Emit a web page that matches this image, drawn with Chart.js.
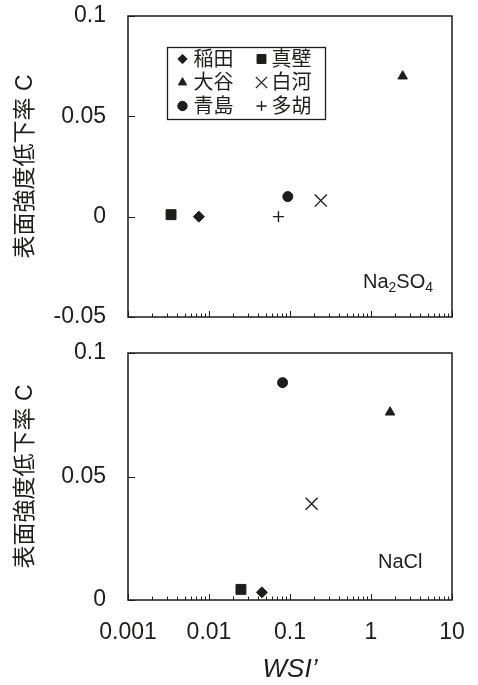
<!DOCTYPE html>
<html><head><meta charset="utf-8">
<script src="https://cdn.jsdelivr.net/npm/chart.js@4/dist/chart.umd.min.js"></script>
<style>
html,body{margin:0;padding:0;background:#fff;width:478px;height:685px;overflow:hidden}
#c1{position:absolute;left:0;top:0}
#c2{position:absolute;left:0;top:339px}
</style></head><body>
<canvas id="c1" width="478" height="339"></canvas>
<canvas id="c2" width="478" height="346"></canvas>
<script>
// ---- data ----
const sites = ['稲田','真壁','大谷','白河','青島','多胡'];
const siteStyles = ['rectRot','rect','triangle','crossRot','circle','cross'];
const siteRadius = [5.5, 7, 5.5, 8.5, 5, 5.5];
const legendRadius = [4.7, 6.3, 4.8, 8, 4.7, 5];
// Na2SO4 panel
const na2so4WSI = [0.0075, 0.0034, 2.46, 0.24, 0.094, 0.072];
const na2so4C   = [0.0,    0.001,  0.070, 0.008, 0.010, 0.0];
// NaCl panel (多胡 not plotted)
const naclWSI = [0.045, 0.0248, 1.72, 0.185, 0.081, null];
const naclC   = [0.0031, 0.0043, 0.076, 0.039, 0.088, null];
// ticks
const xMajorTicks = [0.001, 0.01, 0.1, 1, 10];
const xMajorLabels = ['0.001','0.01','0.1','1','10'];
const xMinorMultipliers = [2,3,4,5,6,7,8,9];
const yTicksTop = [-0.05, 0, 0.05, 0.1];
const yLabelsTop = ['-0.05','0','0.05','0.1'];
const yTicksBottom = [0, 0.05, 0.1];
const yLabelsBottom = ['0','0.05','0.1'];
const yTitle = '表面強度低下率 C';
const xTitle = 'WSI\u2019';

const INK = '#1d1d1b';
const FONT = "'Liberation Sans', Arial, 'Noto Sans CJK JP', sans-serif";
const CJKFONT = "'Liberation Sans', 'Noto Sans CJK JP', sans-serif";
Chart.defaults.color = INK;
Chart.defaults.font.family = FONT;

function makeDatasets(xs, ys) {
  const out = [];
  sites.forEach((s, i) => {
    if (xs[i] == null) return;
    out.push({
      label: s,
      data: [{x: xs[i], y: ys[i]}],
      pointStyle: siteStyles[i],
      pointRadius: siteRadius[i],
      pointBackgroundColor: INK,
      pointBorderColor: INK,
      pointBorderWidth: (siteStyles[i] === 'cross' || siteStyles[i] === 'crossRot') ? 1.4 : 1
    });
  });
  return out;
}

const frameTicks = {
  id: 'frameTicks',
  beforeDatasetsDraw(chart, args, opts) {
    const ctx = chart.ctx, a = chart.chartArea;
    const xs = chart.scales.x, ys = chart.scales.y;
    ctx.save();
    ctx.strokeStyle = INK;
    ctx.lineWidth = 1;
    xMajorTicks.forEach((d, di) => {
      const px = Math.round(xs.getPixelForValue(d)) + 0.5;
      ctx.beginPath(); ctx.moveTo(px, a.bottom); ctx.lineTo(px, a.bottom - 6); ctx.stroke();
      if (di < xMajorTicks.length - 1) {
        xMinorMultipliers.forEach(m => {
          const p = Math.round(xs.getPixelForValue(m * d)) + 0.5;
          ctx.beginPath(); ctx.moveTo(p, a.bottom); ctx.lineTo(p, a.bottom - 3.5); ctx.stroke();
        });
      }
    });
    opts.yTicks.forEach(v => {
      const py = Math.round(ys.getPixelForValue(v)) + 0.5;
      ctx.beginPath(); ctx.moveTo(a.left, py); ctx.lineTo(a.left + 7, py); ctx.stroke();
    });
    ctx.lineWidth = 1.5;
    ctx.strokeRect(a.left, a.top, a.right - a.left, a.bottom - a.top);
    ctx.restore();
  }
};

const saltLabel = {
  id: 'saltLabel',
  afterDatasetsDraw(chart, args, opts) {
    const ctx = chart.ctx, a = chart.chartArea;
    ctx.save();
    ctx.fillStyle = INK;
    ctx.textBaseline = 'alphabetic';
    let x = a.left + opts.dx, y = a.top + opts.dy;
    opts.parts.forEach(p => {
      ctx.font = (p.sub ? 14 : 20) + 'px ' + FONT;
      ctx.fillText(p.t, x, y + (p.sub ? 4 : 0));
      x += ctx.measureText(p.t).width;
    });
    ctx.restore();
  }
};

const boxLegend = {
  id: 'boxLegend',
  afterDatasetsDraw(chart, args, opts) {
    if (!opts.show) return;
    const ctx = chart.ctx, a = chart.chartArea;
    ctx.save();
    const bx = a.left + 39, by = a.top + 31;
    ctx.strokeStyle = INK; ctx.lineWidth = 1.3;
    ctx.strokeRect(bx + 0.5, by + 0.5, 158, 72);
    ctx.font = '20px ' + CJKFONT;
    ctx.textBaseline = 'middle';
    sites.forEach((s, i) => {
      const col = i % 2, row = Math.floor(i / 2);
      const cy = by + 12 + row * 23.5;
      const mx = bx + (col ? 94.5 : 15.5);
      const tx = bx + (col ? 104.5 : 26.5);
      ctx.fillStyle = INK; ctx.strokeStyle = INK;
      ctx.lineWidth = (siteStyles[i] === 'cross' || siteStyles[i] === 'crossRot') ? 1.3 : 1;
      if (Chart.helpers && Chart.helpers.drawPoint) {
        Chart.helpers.drawPoint(ctx, {pointStyle: siteStyles[i], radius: legendRadius[i], rotation: 0, borderWidth: ctx.lineWidth}, mx, cy);
      }
      ctx.fillText(s, tx, cy + 1);
    });
    ctx.restore();
  }
};

function makeChart(id, cfg) {
  return new Chart(document.getElementById(id), {
    type: 'scatter',
    data: {datasets: makeDatasets(cfg.xs, cfg.ys)},
    plugins: [frameTicks, saltLabel, boxLegend],
    options: {
      responsive: false,
      animation: false,
      events: [],
      layout: {padding: cfg.padding},
      plugins: {
        legend: {display: false},
        tooltip: {enabled: false},
        frameTicks: {yTicks: cfg.yTicks},
        saltLabel: cfg.salt,
        boxLegend: {show: cfg.legend}
      },
      scales: {
        x: {
          type: 'logarithmic',
          min: 0.001, max: 10,
          display: cfg.showX,
          grid: {display: false, drawTicks: false},
          border: {display: false},
          afterBuildTicks: s => { s.ticks = xMajorTicks.map(v => ({value: v})); },
          afterFit: s => { s.height = cfg.showX ? 85 : 0; s.paddingLeft = 0; s.paddingRight = 0; },
          ticks: {
            autoSkip: false, maxRotation: 0, padding: 19,
            font: {size: 23},
            callback: (v, i) => xMajorLabels[i]
          },
          title: {display: cfg.showX, text: xTitle, font: {size: 26, style: 'italic'}, padding: {top: 0, bottom: 0}}
        },
        y: {
          min: cfg.yTicks[0], max: cfg.yTicks[cfg.yTicks.length - 1],
          grid: {display: false, drawTicks: false},
          border: {display: false},
          afterBuildTicks: s => { s.ticks = cfg.yTicks.map(v => ({value: v})); },
          afterFit: s => { s.width = 128; s.paddingTop = 0; s.paddingBottom = 0; },
          ticks: {padding: 22, font: {size: 23}, callback: (v, i) => cfg.yLabels[i]},
          title: {display: true, text: yTitle, font: {size: 23, family: CJKFONT}, padding: {top: 12, bottom: 0}}
        }
      }
    }
  });
}

makeChart('c1', {
  xs: na2so4WSI, ys: na2so4C, yTicks: yTicksTop, yLabels: yLabelsTop,
  padding: {top: 16, right: 26, bottom: 22, left: 0},
  showX: false, legend: true,
  salt: {dx: 235, dy: 272, parts: [{t:'Na'},{t:'2',sub:true},{t:'SO'},{t:'4',sub:true}]}
});
makeChart('c2', {
  xs: naclWSI, ys: naclC, yTicks: yTicksBottom, yLabels: yLabelsBottom,
  padding: {top: 14, right: 26, bottom: 0, left: 0},
  showX: true, legend: false,
  salt: {dx: 250, dy: 215, parts: [{t:'NaCl'}]}
});
</script>
</body></html>
